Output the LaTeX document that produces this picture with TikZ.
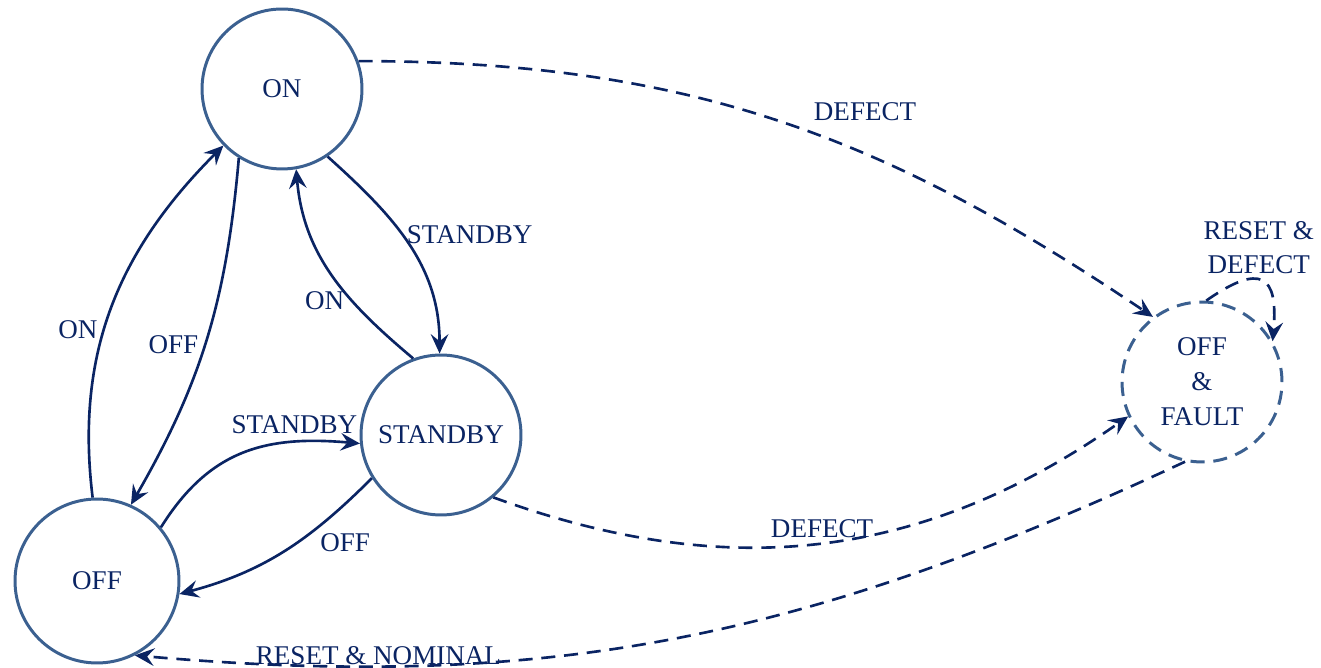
\documentclass[tikz,border=0pt]{standalone}
\usepackage{fontspec}
\setmainfont{Liberation Serif}
\usetikzlibrary{arrows.meta}
\definecolor{ring}{HTML}{3B6090}
\definecolor{navy}{HTML}{0A2463}
\begin{document}
\begin{tikzpicture}[x=0.02cm,y=0.02cm,
  font=\fontsize{15.4}{20}\selectfont,
  state/.style={circle,draw=ring,line width=1.7pt,minimum size=3.2cm,inner sep=0pt,text=navy,align=center},
  tr/.style={draw=navy,line width=1.5pt,-{Stealth[length=11pt,width=10pt,inset=4pt]}},
  dtr/.style={tr,dash pattern=on 8pt off 5pt},
  lab/.style={text=navy,inner sep=2pt}]
\useasboundingbox (0,0) rectangle (1321,668);
\node[state] (on) at (282,579) {ON};
\node[state] (sb) at (441,233) {STANDBY};
\node[state,minimum size=3.28cm] (off) at (97,87) {OFF};
\node[state,dash pattern=on 8pt off 5pt] (ff) at (1202,286) {OFF\\\&\\FAULT};
\path[tr] (off.93) to[out=97,in=225] node[lab,pos=0.43,left=1pt] {ON} (on.224);
\path[tr] (on.238) to[out=265,in=60] node[lab,pos=0.52,left=1pt] {OFF} (off.66);
\path[tr] (on.304) to[out=-42,in=90] node[lab,pos=0.45,right=0pt] {STANDBY} (sb.91);
\path[tr] (sb.110) to[out=140,in=-85] node[lab,pos=0.35,left=2pt] {ON} (on.280);
\path[tr] (off.40) to[out=58,in=175,looseness=1.1] node[lab,pos=0.74,above=2pt] {STANDBY} (sb.186);
\path[tr] (sb.212) to[out=225,in=15] node[lab,pos=0.32,below right=0pt] {OFF} (off.351);
\path[dtr] (on.20) to[out=0,in=146] node[lab,pos=0.52,anchor=south west,xshift=10] {DEFECT} (ff.127);
\path[dtr] (sb.310) to[out=-20,in=215] node[lab,pos=0.5,above=0pt] {DEFECT} (ff.205);
\path[dtr] (ff.258) to[out=205,in=-5] node[lab,pos=0.79,above=-2pt] {RESET \& NOMINAL} (off.297);
\path[dtr] (ff.87) to[out=35,in=85,looseness=2.2] node[lab,pos=0.45,above=1pt,align=center,font=\fontsize{15.4}{19}\selectfont] {RESET \&\\DEFECT} (ff.30);
\end{tikzpicture}
\end{document}
